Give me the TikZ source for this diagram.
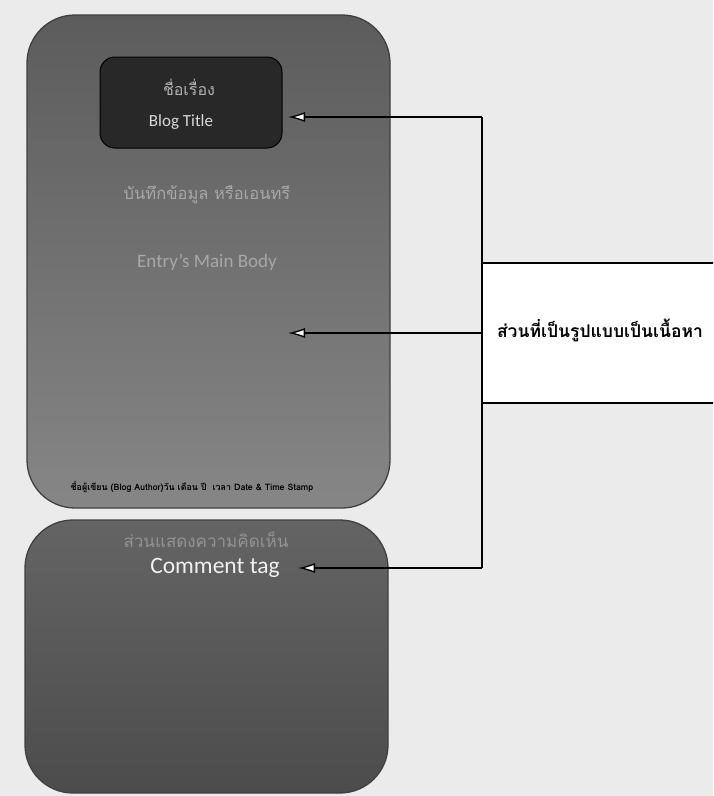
\documentclass[tikz,border=0pt]{standalone}
\usepackage{fontspec}
\setmainfont{Carlito}
\newfontfamily\thaifont[Script=Thai]{Loma}
\usetikzlibrary{arrows.meta}
\definecolor{pagebg}{HTML}{EBEBEB}
\definecolor{posttop}{HTML}{5C5C5C}
\definecolor{postmid}{HTML}{4A4A4A}
\definecolor{postbot}{HTML}{868686}
\definecolor{cmttop}{HTML}{646464}
\definecolor{cmtmid}{HTML}{787878}
\definecolor{cmtbot}{HTML}{4C4C4C}
\definecolor{headfill}{HTML}{282828}
\definecolor{softtext}{HTML}{A8A8A8}

\begin{document}
\begin{tikzpicture}[x=1pt,y=-1pt,
	panel/.style={draw=black!75, line width=1.3pt, rounded corners=48pt, inner sep=0pt},
	pointer/.style={line width=1.3pt, -{Latex[open,length=17pt,width=10pt,fill=white]}},
	faint/.style={text=softtext}
]
	\clip (0,0) rectangle (713,796);
	\fill[pagebg] (0,0) rectangle (713,796);
	% blog entry and comment panels
	\node (post) [panel, minimum width=363pt, minimum height=493pt,
		top color=posttop, middle color=postmid, bottom color=postbot] at (208.5,261.5) {};
	\node (comments) [panel, minimum width=363pt, minimum height=273pt,
		top color=cmttop, middle color=cmtmid, bottom color=cmtbot] at (206.5,656.5) {};
	\node (head) [draw=black, line width=1pt, rounded corners=15pt, fill=headfill,
		minimum width=182pt, minimum height=91pt] at (191,102.5) {};
	% texts
	\node (headth) [text=black!30, font=\thaifont\fontsize{16}{18}\selectfont] at (189,87) {ชื่อเรื่อง};
	\node (headen) [text=black!15, font=\fontsize{17}{19}\selectfont] at (181,122) {Blog Title};
	\node (bodyth) [faint, font=\thaifont\fontsize{16.5}{18}\selectfont] at (207,195) {บันทึกข้อมูล หรือเอนทรี};
	\node (bodyen) [faint, font=\fontsize{19}{21}\selectfont] at (207,262) {Entry's Main Body};
	\node (stamp) [font=\thaifont\bfseries\fontsize{8.9}{10}\selectfont] at (192,487) {ชื่อผู้เขียน (Blog Author)วัน เดือน ปี \ เวลา Date \& Time Stamp};
	\node (cmtth) [text=black!42, font=\thaifont\fontsize{17}{19}\selectfont] at (206,540) {ส่วนแสดงความคิดเห็น};
	\node (cmten) [text=black!6, font=\fontsize{23.5}{25}\selectfont] at (215,568) {Comment tag};
	% legend box
	\node (legend) [draw, line width=1.3pt, fill=white, minimum width=260pt, minimum height=140pt, anchor=west] at (482,333) {};
	\node (legendtext) [font=\thaifont\bfseries\fontsize{17.5}{19}\selectfont] at (600,330) {ส่วนที่เป็นรูปแบบเป็นเนื้อหา};
	% connectors
	\coordinate (railtop) at (482,117);
	\coordinate (railbot) at (482,568);
	\coordinate (tiphead) at (288,117);
	\coordinate (tipbody) at (288,333);
	\coordinate (tipcmt) at (298,568);
	\draw[line width=1.3pt] (railtop) -- (railbot);
	\draw[pointer] (railtop) -- (tiphead);
	\draw[pointer] (legend.west) -- (tipbody);
	\draw[pointer] (railbot) -- (tipcmt);
\end{tikzpicture}
\end{document}
